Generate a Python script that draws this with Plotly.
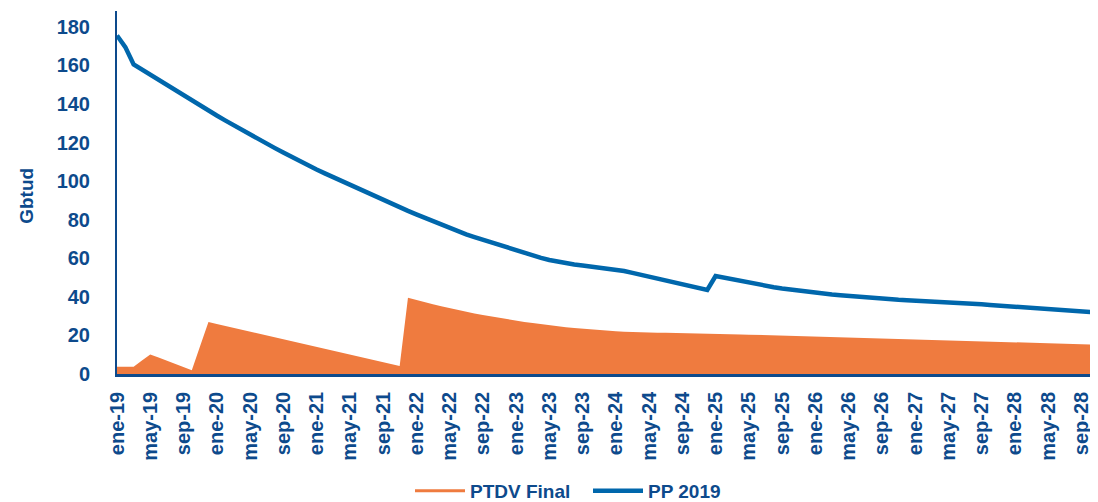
import plotly.graph_objects as go

MONTHS = ["ene", "feb", "mar", "abr", "may", "jun", "jul", "ago", "sep", "oct", "nov", "dic"]
YEARS = ["19", "20", "21", "22", "23", "24", "25", "26", "27", "28"]
categories = [f"{m}-{y}" for y in YEARS for m in MONTHS][:119]
tick_labels = categories[::4]

pp_2019 = [
    175.5, 169.5, 160.5, 157.8, 155.1, 152.4, 149.7, 147.0, 144.4, 141.8,
    139.2, 136.6, 134.0, 131.5, 129.0, 126.6, 124.2, 121.8, 119.4, 117.1,
    114.8, 112.5, 110.2, 108.0, 106.0, 104.0, 102.0, 100.0, 98.0, 96.0,
    94.1, 92.2, 90.2, 88.3, 86.4, 84.6, 82.8, 81.0, 79.2, 77.5,
    75.8, 74.1, 72.4, 71.0, 69.6, 68.2, 66.8, 65.4, 64.1, 62.8,
    61.5, 60.2, 59.1, 58.2, 57.4, 56.8, 56.3, 55.8, 55.3, 54.9,
    54.4, 53.4, 52.4, 51.4, 50.4, 49.4, 48.4, 47.4, 46.4, 45.4,
    44.5, 43.6, 50.8, 49.9, 49.0, 48.1, 47.3, 46.5, 45.7, 45.0,
    44.3, 43.7, 43.1, 42.6, 42.1, 41.6, 41.2, 40.8, 40.4, 40.0,
    39.6, 39.3, 39.0, 38.7, 38.5, 38.3, 38.1, 37.9, 37.7, 37.55,
    37.4, 37.1, 36.8, 36.4, 36.1, 35.8, 35.5, 35.2, 34.9, 34.6,
    34.3, 34.0, 33.7, 33.4, 33.0, 32.7, 32.4, 32.1, 31.8,
]

ptdv_final = [
    3.8, 3.8, 3.8, 7.0, 10.1, 8.5, 6.9, 5.2, 3.6, 2.0,
    14.5, 26.9, 25.9, 24.9, 23.9, 22.9, 21.9, 20.9, 19.9, 18.9,
    17.9, 16.9, 15.9, 14.9, 13.9, 12.9, 11.9, 10.9, 9.9, 8.9,
    7.9, 6.9, 5.9, 4.9, 4.2, 39.5, 38.3, 37.2, 36.1, 35.1,
    34.1, 33.1, 32.2, 31.4, 30.6, 29.8, 29.0, 28.3, 27.6, 27.0,
    26.4, 25.8, 25.2, 24.7, 24.2, 23.8, 23.4, 23.0, 22.7, 22.4,
    22.1, 21.9, 21.7, 21.6, 21.5, 21.4, 21.35, 21.3, 21.2, 21.15,
    21.1, 21.0, 20.9, 20.75, 20.65, 20.5, 20.4, 20.3, 20.15, 20.05,
    19.9, 19.8, 19.7, 19.55, 19.45, 19.3, 19.2, 19.1, 18.95, 18.8,
    18.7, 18.6, 18.45, 18.3, 18.2, 18.1, 17.95, 17.8, 17.7, 17.6,
    17.45, 17.3, 17.2, 17.1, 16.95, 16.8, 16.7, 16.6, 16.45, 16.3,
    16.2, 16.1, 15.95, 15.8, 15.7, 15.6, 15.45, 15.3, 15.2,
]

y_ticks = [0, 20, 40, 60, 80, 100, 120, 140, 160, 180]

ORANGE = "#ef7b3f"
BLUE = "#0067ac"
NAVY = "#0d4a8c"
FONT = "Liberation Sans, Arial, sans-serif"

fig = go.Figure()
fig.add_trace(go.Scatter(
    x=categories, y=ptdv_final, mode="lines", fill="tozeroy",
    fillcolor=ORANGE, line=dict(width=0, color=ORANGE),
    name="PTDV Final", showlegend=False, legendgroup="ptdv", hoverinfo="skip",
))
fig.add_trace(go.Scatter(
    x=[None], y=[None], mode="lines", line=dict(width=3, color=ORANGE),
    name="PTDV Final", legendgroup="ptdv",
))
fig.add_trace(go.Scatter(
    x=categories, y=pp_2019, mode="lines",
    line=dict(width=4.5, color=BLUE), name="PP 2019",
))

fig.update_layout(
    width=1090, height=502,
    margin=dict(l=109, r=0, t=3, b=130),
    paper_bgcolor="white", plot_bgcolor="white",
    font=dict(family=FONT, color=NAVY, size=20),
    showlegend=True,
    legend=dict(
        orientation="h", x=(410 - 117) / 981, xanchor="left", y=-0.3225, yanchor="middle",
        font=dict(family=FONT, size=19, color=NAVY, weight="bold"),
        itemwidth=50, entrywidth=113, entrywidthmode="pixels", traceorder="normal",
    ),
    xaxis=dict(
        type="category", categoryorder="array", categoryarray=categories,
        range=[0, 118], tickvals=tick_labels, ticktext=tick_labels,
        tickangle=-90, showgrid=False, zeroline=False, automargin=False,
        showline=True, linecolor=NAVY, linewidth=2.5,
        ticks="", ticklabelstandoff=7,
        tickfont=dict(family=FONT, size=20, color=NAVY, weight="bold"),
    ),
    yaxis=dict(
        range=[0, 188.2], tickvals=y_ticks, showgrid=False, zeroline=False,
        automargin=False,
        showline=True, linecolor=NAVY, linewidth=2,
        ticks="", ticklabelstandoff=21,
        tickfont=dict(family=FONT, size=20, color=NAVY, weight="bold"),
    ),
    annotations=[dict(
        text="<b>Gbtud</b>", textangle=-90, xref="paper", yref="paper",
        x=-0.0917, y=0.491, xanchor="center", yanchor="middle", showarrow=False,
        font=dict(family=FONT, size=19, color=NAVY),
    )],
)

fig.write_html("out.html")
